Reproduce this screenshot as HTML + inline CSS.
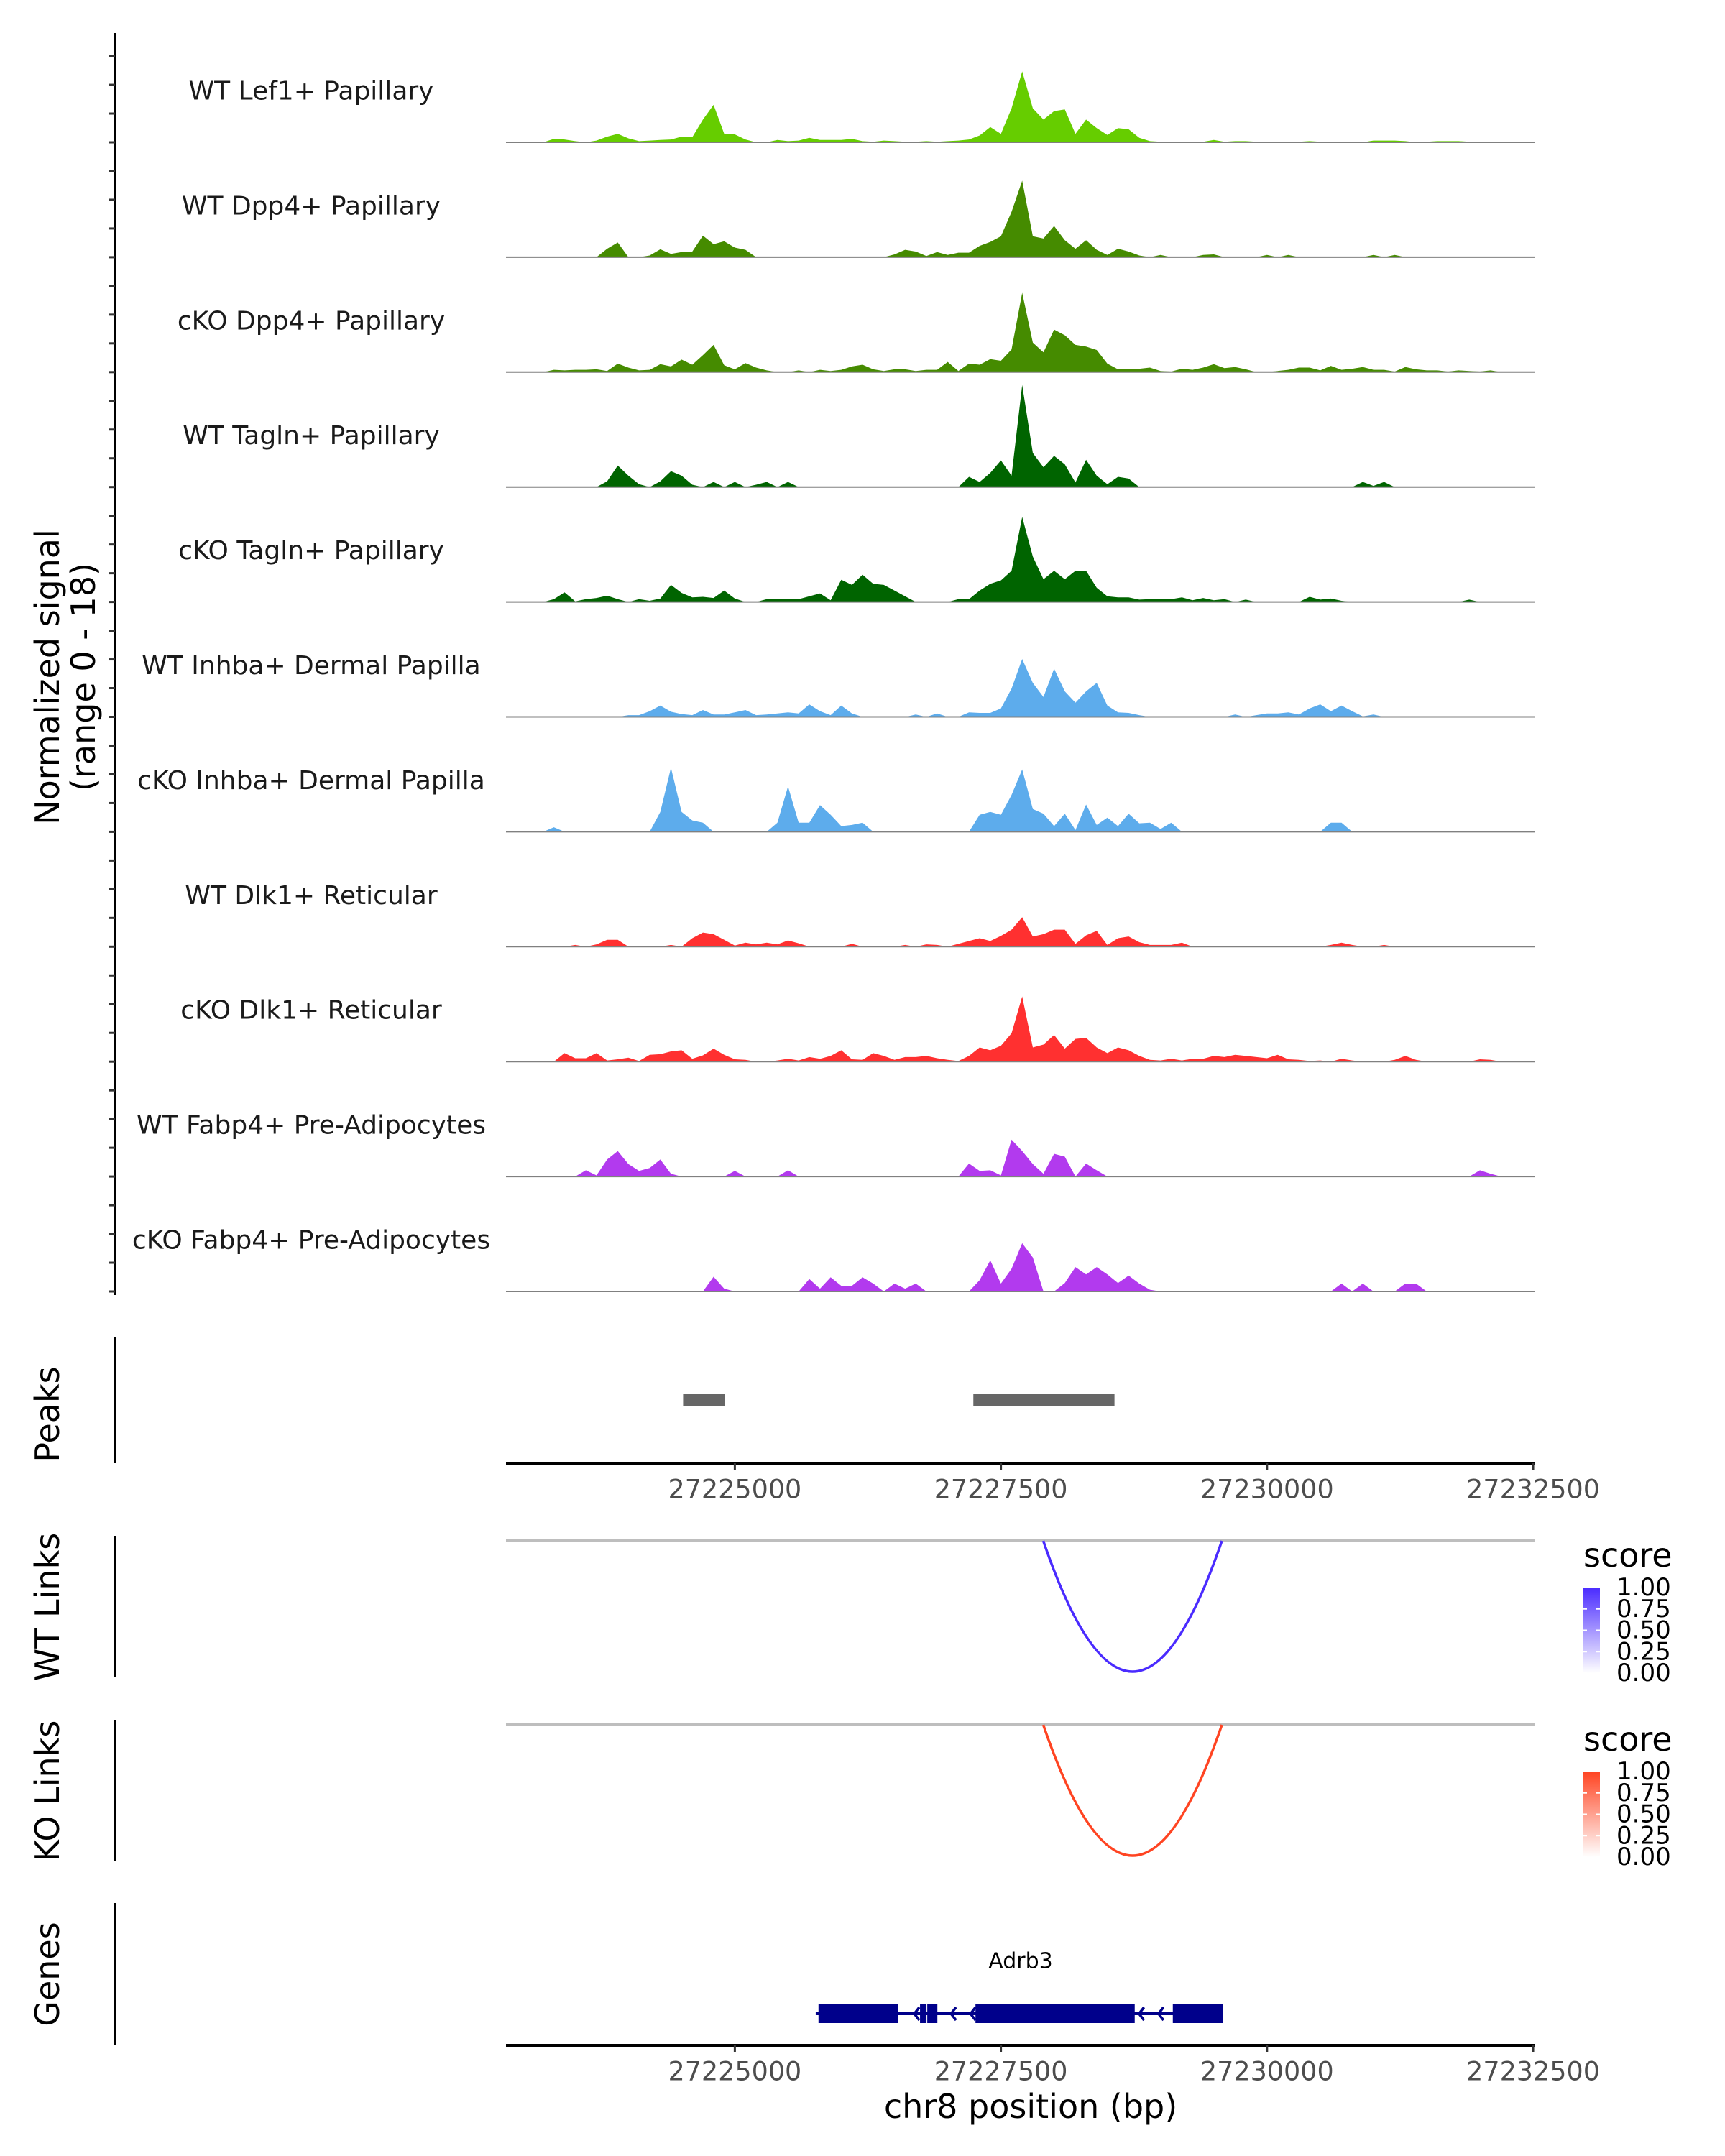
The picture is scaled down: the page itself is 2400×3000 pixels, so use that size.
<!DOCTYPE html>
<html><head><meta charset="utf-8"><style>
html,body{margin:0;padding:0;background:#fff;overflow:hidden;}
svg{display:block;font-family:"DejaVu Sans","Liberation Sans",sans-serif;}
</style></head><body>
<svg id="chart" width="2400" height="3000" viewBox="0 0 2400 3000" xmlns="http://www.w3.org/2000/svg">
<g id="tracks"></g>
<g id="axes"></g>
</svg>
<script>
// genomic domain and bins
const domainBp = [27222850, 27232520];
const binStart = 27222850;
const binSize = 100;
const nBins = 97;
const tickValues = [27225000, 27227500, 27230000, 27232500];
const tickLabels = ["27225000", "27227500", "27230000", "27232500"];
const yMax = 18;

const trackNames = ["WT Lef1+ Papillary","WT Dpp4+ Papillary","cKO Dpp4+ Papillary","WT Tagln+ Papillary","cKO Tagln+ Papillary","WT Inhba+ Dermal Papilla","cKO Inhba+ Dermal Papilla","WT Dlk1+ Reticular","cKO Dlk1+ Reticular","WT Fabp4+ Pre-Adipocytes","cKO Fabp4+ Pre-Adipocytes"];
const trackColors = ["#66cd00","#458b00","#458b00","#006400","#006400","#5dacec","#5dacec","#ff3030","#ff3030","#b23aee","#b23aee"];

// [bin, value] pairs per track
const lef1WT = [[4,0.6],[5,0.5],[6,0.2],[8,0.3],[9,1.0],[10,1.5],[11,0.7],[12,0.2],[13,0.3],[14,0.4],[15,0.5],[16,1.0],[17,0.9],[18,4.0],[19,6.6],[20,1.5],[21,1.4],[22,0.5],[25,0.4],[26,0.2],[27,0.3],[28,0.8],[29,0.4],[30,0.4],[31,0.4],[32,0.6],[33,0.2],[34,0.1],[35,0.3],[36,0.2],[37,0.1],[38,0.1],[39,0.2],[40,0.1],[41,0.2],[42,0.3],[43,0.5],[44,1.2],[45,2.7],[46,1.5],[47,6.0],[48,12.5],[49,6.0],[50,4.0],[51,5.5],[52,5.8],[53,1.5],[54,4.0],[55,2.5],[56,1.3],[57,2.5],[58,2.3],[59,0.8],[60,0.2],[61,0.1],[62,0.1],[63,0.1],[64,0.1],[65,0.1],[66,0.4],[67,0.1],[68,0.2],[69,0.2],[70,0.1],[71,0.1],[72,0.1],[73,0.1],[74,0.1],[75,0.2],[76,0.1],[77,0.1],[78,0.1],[79,0.1],[81,0.3],[82,0.3],[83,0.3],[84,0.2],[86,0.1],[87,0.2],[88,0.2],[89,0.2],[90,0.1],[92,0.1]];
const dpp4WT = [[4,0.1],[9,1.5],[10,2.6],[13,0.3],[14,1.4],[15,0.6],[16,0.9],[17,1.0],[18,3.8],[19,2.3],[20,2.8],[21,1.7],[22,1.3],[36,0.5],[37,1.3],[38,1.0],[39,0.2],[40,0.9],[41,0.4],[42,0.8],[43,0.8],[44,2.0],[45,2.7],[46,3.7],[47,8.0],[48,13.5],[49,3.7],[50,3.3],[51,5.5],[52,3.0],[53,1.5],[54,3.0],[55,1.3],[56,0.4],[57,1.5],[58,1.0],[59,0.3],[61,0.4],[65,0.4],[66,0.5],[71,0.4],[73,0.4],[81,0.4],[83,0.4]];
const dpp4KO = [[4,0.4],[5,0.3],[6,0.4],[7,0.4],[8,0.5],[9,0.2],[10,1.5],[11,0.8],[12,0.3],[13,0.4],[14,1.4],[15,1.0],[16,2.2],[17,1.3],[18,3.0],[19,4.8],[20,1.2],[21,0.5],[22,1.6],[23,0.8],[24,0.3],[27,0.3],[29,0.4],[30,0.2],[31,0.4],[32,1.0],[33,1.3],[34,0.5],[35,0.2],[36,0.5],[37,0.5],[38,0.2],[39,0.4],[40,0.4],[41,1.8],[42,0.2],[43,1.5],[44,1.3],[45,2.3],[46,2.0],[47,4.0],[48,14.0],[49,5.2],[50,3.5],[51,7.5],[52,6.5],[53,4.8],[54,4.5],[55,3.9],[56,1.5],[57,0.5],[58,0.6],[59,0.6],[60,0.8],[61,0.2],[62,0.1],[63,0.6],[64,0.4],[65,0.8],[66,1.4],[67,0.7],[68,0.9],[69,0.5],[72,0.2],[73,0.4],[74,0.8],[75,0.8],[76,0.3],[77,1.1],[78,0.4],[79,0.6],[80,0.9],[81,0.4],[82,0.4],[83,0.1],[84,0.9],[85,0.5],[86,0.3],[87,0.3],[88,0.1],[89,0.3],[90,0.2],[91,0.1],[92,0.3]];
const taglnWT = [[9,1.0],[10,3.8],[11,2.0],[12,0.5],[14,1.0],[15,2.8],[16,2.0],[17,0.4],[19,0.9],[21,0.9],[23,0.4],[24,0.9],[26,0.9],[43,1.8],[44,0.9],[45,2.5],[46,4.7],[47,2.0],[48,18.0],[49,6.0],[50,3.5],[51,5.5],[52,4.0],[53,0.8],[54,4.8],[55,2.0],[56,0.5],[57,1.8],[58,1.5],[80,0.9],[81,0.2],[82,0.9]];
const taglnKO = [[4,0.5],[5,1.7],[6,0.1],[7,0.5],[8,0.7],[9,1.1],[10,0.5],[12,0.5],[13,0.2],[14,0.6],[15,3.0],[16,1.6],[17,0.8],[18,0.9],[19,0.7],[20,2.0],[21,0.6],[24,0.5],[25,0.5],[26,0.5],[27,0.5],[28,1.0],[29,1.5],[30,0.3],[31,3.9],[32,3.0],[33,4.8],[34,3.2],[35,3.0],[36,2.0],[37,1.0],[42,0.5],[43,0.5],[44,2.0],[45,3.2],[46,3.8],[47,5.5],[48,15.0],[49,8.0],[50,4.0],[51,5.5],[52,4.0],[53,5.5],[54,5.5],[55,2.5],[56,1.0],[57,0.8],[58,0.8],[59,0.4],[60,0.5],[61,0.5],[62,0.5],[63,0.8],[64,0.3],[65,0.7],[66,0.3],[67,0.5],[69,0.4],[75,0.9],[76,0.4],[77,0.6],[78,0.2],[90,0.4]];
const inhbaWT = [[11,0.3],[12,0.3],[13,1.0],[14,2.0],[15,0.9],[16,0.5],[17,0.3],[18,1.2],[19,0.4],[20,0.4],[21,0.8],[22,1.2],[23,0.3],[24,0.4],[25,0.6],[26,0.8],[27,0.6],[28,2.2],[29,1.0],[30,0.3],[31,2.0],[32,0.6],[38,0.4],[40,0.6],[43,0.8],[44,0.7],[45,0.7],[46,1.5],[47,5.0],[48,10.2],[49,6.0],[50,3.5],[51,8.5],[52,4.5],[53,2.5],[54,4.5],[55,6.0],[56,2.0],[57,0.8],[58,0.7],[59,0.3],[68,0.4],[70,0.3],[71,0.6],[72,0.6],[73,0.8],[74,0.4],[75,1.5],[76,2.2],[77,1.0],[78,2.0],[79,1.0],[80,0.1],[81,0.4]];
const inhbaKO = [[4,0.8],[14,3.5],[15,11.3],[16,3.5],[17,2.0],[18,1.6],[25,1.6],[26,8.0],[27,1.6],[28,1.6],[29,4.7],[30,3.0],[31,1.0],[32,1.2],[33,1.6],[44,3.0],[45,3.5],[46,3.0],[47,6.5],[48,11.0],[49,4.0],[50,3.2],[51,1.0],[52,3.2],[53,0.3],[54,4.8],[55,1.2],[56,2.5],[57,1.0],[58,3.2],[59,1.5],[60,1.6],[61,0.5],[62,1.6],[77,1.6],[78,1.6]];
const dlk1WT = [[6,0.3],[8,0.4],[9,1.2],[10,1.2],[15,0.3],[17,1.5],[18,2.5],[19,2.2],[20,1.2],[21,0.2],[22,0.7],[23,0.4],[24,0.7],[25,0.4],[26,1.1],[27,0.6],[32,0.5],[37,0.3],[39,0.4],[40,0.3],[42,0.5],[43,1.0],[44,1.5],[45,1.0],[46,1.9],[47,3.0],[48,5.2],[49,1.8],[50,2.2],[51,3.0],[52,3.0],[53,0.5],[54,2.0],[55,2.8],[56,0.3],[57,1.5],[58,1.8],[59,0.8],[60,0.3],[61,0.3],[62,0.3],[63,0.7],[77,0.3],[78,0.7],[79,0.3],[82,0.3]];
const dlk1KO = [[5,1.5],[6,0.6],[7,0.6],[8,1.5],[9,0.2],[10,0.4],[11,0.7],[12,0.1],[13,1.2],[14,1.3],[15,1.8],[16,2.0],[17,0.5],[18,1.1],[19,2.3],[20,1.2],[21,0.4],[22,0.3],[25,0.2],[26,0.5],[27,0.2],[28,0.8],[29,0.5],[30,1.0],[31,2.0],[32,0.4],[33,0.3],[34,1.5],[35,1.0],[36,0.3],[37,0.8],[38,0.8],[39,1.0],[40,0.6],[41,0.3],[42,0.1],[43,1.0],[44,2.5],[45,2.0],[46,2.8],[47,5.0],[48,11.5],[49,2.5],[50,3.0],[51,4.7],[52,2.3],[53,4.0],[54,4.2],[55,2.5],[56,1.5],[57,2.5],[58,2.0],[59,1.0],[60,0.3],[61,0.2],[62,0.5],[63,0.2],[64,0.5],[65,0.5],[66,1.0],[67,0.8],[68,1.2],[69,1.0],[70,0.8],[71,0.6],[72,1.2],[73,0.4],[74,0.3],[75,0.1],[76,0.2],[78,0.5],[79,0.2],[83,0.3],[84,1.0],[85,0.3],[91,0.4],[92,0.3]];
const fabp4WT = [[7,1.1],[8,0.2],[9,3.0],[10,4.5],[11,2.2],[12,1.0],[13,1.5],[14,3.0],[15,0.5],[21,1.0],[26,1.1],[43,2.3],[44,1.0],[45,1.1],[46,0.2],[47,6.5],[48,4.5],[49,2.2],[50,0.5],[51,4.0],[52,3.5],[54,2.3],[55,1.1],[91,1.1],[92,0.5]];
const fabp4KO = [[19,2.6],[20,0.5],[28,2.2],[29,0.5],[30,2.5],[31,1.0],[32,1.0],[33,2.5],[34,1.4],[36,1.4],[37,0.5],[38,1.4],[44,2.0],[45,5.5],[46,1.4],[47,4.0],[48,8.5],[49,6.0],[52,1.5],[53,4.3],[54,3.0],[55,4.3],[56,3.0],[57,1.5],[58,2.8],[59,1.4],[60,0.3],[78,1.4],[80,1.4],[84,1.4],[85,1.4]];
const trackData = [lef1WT,dpp4WT,dpp4KO,taglnWT,taglnKO,inhbaWT,inhbaKO,dlk1WT,dlk1KO,fabp4WT,fabp4KO];

// peaks, links, gene
const peakStarts = [27224514, 27227241];
const peakEnds = [27224907, 27228567];
const wtLinkStart = [27227898]; const wtLinkEnd = [27229576]; const wtLinkScore = [1.0];
const koLinkStart = [27227898]; const koLinkEnd = [27229576]; const koLinkScore = [1.0];
const exonStarts = [27225786, 27226740, 27226808, 27227261, 27229115];
const exonEnds = [27226537, 27226801, 27226903, 27228757, 27229589];
const geneStart = 27225760, geneEnd = 27229589;
const arrowPos = [27226686, 27227031, 27227214, 27228797, 27228980];
const legendTicks = ["1.00","0.75","0.50","0.25","0.00"];

const NS = "http://www.w3.org/2000/svg";
const X0 = 704, X1 = 2136;
function xScale(bp){ return X0 + (bp - domainBp[0])/(domainBp[1]-domainBp[0])*(X1-X0); }
const trackTop0 = 198, trackStep = 159.9, trackH = 142;
function yScale(v, base){ return base - v/yMax*trackH; }
function mk(tag, attrs, parent){ const e = document.createElementNS(NS, tag); for (const k in attrs) e.setAttribute(k, attrs[k]); parent.appendChild(e); return e; }
const tracksG = document.getElementById('tracks');
const axesG = document.getElementById('axes');

trackData.forEach((pairs, i) => {
  const base = trackTop0 + i*trackStep;
  const vals = new Array(nBins).fill(0);
  pairs.forEach(p => { vals[p[0]] = p[1]; });
  let d = "M" + xScale(binStart) + "," + base;
  for (let b = 0; b < nBins; b++) {
    const cx = xScale(binStart + b*binSize + binSize/2);
    d += " L" + cx.toFixed(1) + "," + yScale(vals[b], base).toFixed(1);
  }
  d += " L" + xScale(binStart + nBins*binSize) + "," + base + " Z";
  const area = mk('path', {d: d, fill: trackColors[i], stroke: 'none'}, tracksG);
  
  
  const bl = mk('line', {x1: X0, x2: X1, y1: base, y2: base, stroke: '#808080', 'stroke-width': 2}, tracksG);
  
  
  const t = mk('text', {x: 433, y: base - 71, 'text-anchor': 'middle', 'dominant-baseline': 'central', 'font-size': 36, fill: '#1a1a1a'}, tracksG);
  t.textContent = trackNames[i];
  
  
});

// left signal axis
const la = mk('line', {x1: 160, x2: 160, y1: 46, y2: 1802, stroke: '#000', 'stroke-width': 3}, axesG);


for (let k = -3; k <= 40; k++) {
  const y = trackTop0 + k*trackStep/4;
  const tk = mk('line', {x1: 152, x2: 160, y1: y, y2: y, stroke: '#333', 'stroke-width': 3}, axesG);
  
  
}
function rotLabel(txt, x, y, name){
  const t = mk('text', {x: x, y: y, transform: 'rotate(-90 '+x+' '+y+')', 'text-anchor': 'middle', 'dominant-baseline': 'central', 'font-size': 46, fill: '#000'}, axesG);
  t.textContent = txt;
  
  
}
rotLabel("Normalized signal", 66, 942, 'y-axis-title');
rotLabel("(range 0 - 18)", 116, 942, 'y-axis-subtitle');
rotLabel("Peaks", 66, 1968, 'peaks-title');
rotLabel("WT Links", 66, 2236, 'wt-links-title');
rotLabel("KO Links", 66, 2492, 'ko-links-title');
rotLabel("Genes", 66, 2747, 'genes-title');
[[1861,2036],[2137,2334],[2393,2590],[2648,2846]].forEach(r => {
  const l = mk('line', {x1: 160, x2: 160, y1: r[0], y2: r[1], stroke: '#000', 'stroke-width': 3}, axesG);
  
  
});

// peaks
peakStarts.forEach((s, i) => {
  const r = mk('rect', {x: xScale(s), y: 1940, width: xScale(peakEnds[i]) - xScale(s), height: 17, fill: '#666666'}, axesG);
  
  
});

function xAxis(y){
  const a = mk('line', {x1: X0, x2: X1, y1: y, y2: y, stroke: '#000', 'stroke-width': 4}, axesG);
  
  
  tickValues.forEach((v, i) => {
    const x = xScale(v);
    const tk = mk('line', {x1: x, x2: x, y1: y, y2: y + 9, stroke: '#333', 'stroke-width': 3}, axesG);
    
    
    const t = mk('text', {x: x, y: y + 36, 'text-anchor': 'middle', 'dominant-baseline': 'central', 'font-size': 36.5, fill: '#4d4d4d'}, axesG);
    t.textContent = tickLabels[i];
    
    
  });
}
xAxis(2036);
xAxis(2846);
const xt = mk('text', {x: 1434, y: 2931, 'text-anchor': 'middle', 'dominant-baseline': 'central', 'font-size': 46, fill: '#000'}, axesG);
xt.textContent = "chr8 position (bp)";



// links
function links(starts, ends, scores, lineY, depth, color, gradId, name){
  const g = mk('line', {x1: X0, x2: X1, y1: lineY, y2: lineY, stroke: '#bebebe', 'stroke-width': 4}, axesG);
  
  
  starts.forEach((s, i) => {
    const a = xScale(s), b = xScale(ends[i]);
    const p = mk('path', {d: 'M'+a+','+lineY+' Q'+((a+b)/2)+','+(lineY+2*depth)+' '+b+','+lineY, fill: 'none', stroke: color, 'stroke-width': 3.5, opacity: scores[i]}, axesG);
    
    
  });
  const top = lineY + 65;
  const st = mk('text', {x: 2203, y: lineY + 36, 'font-size': 46, fill: '#000'}, axesG);
  st.textContent = "score";
  
  
  const defs = mk('defs', {}, axesG);
  const lg = mk('linearGradient', {id: gradId, x1: 0, y1: 1, x2: 0, y2: 0}, defs);
  mk('stop', {offset: 0, 'stop-color': '#ffffff'}, lg);
  mk('stop', {offset: 1, 'stop-color': color}, lg);
  const bar = mk('rect', {x: 2203, y: top, width: 23, height: 119, fill: 'url(#'+gradId+')'}, axesG);
  
  
  legendTicks.forEach((lab, k) => {
    const y = top + k*119/4;
    mk('line', {x1: 2203, x2: 2208, y1: y, y2: y, stroke: '#fff', 'stroke-width': 2}, axesG);
    mk('line', {x1: 2221, x2: 2226, y1: y, y2: y, stroke: '#fff', 'stroke-width': 2}, axesG);
    const t = mk('text', {x: 2249, y: y, 'dominant-baseline': 'central', 'font-size': 34, fill: '#000'}, axesG);
    t.textContent = lab;
    
    
  });
}
links(wtLinkStart, wtLinkEnd, wtLinkScore, 2144, 182, '#4a2bff', 'gradWT', 'wt-links');
links(koLinkStart, koLinkEnd, koLinkScore, 2400, 182, '#ff4422', 'gradKO', 'ko-links');

// gene
const gl = mk('line', {x1: xScale(geneStart), x2: xScale(geneEnd), y1: 2802, y2: 2802, stroke: '#00008b', 'stroke-width': 4}, axesG);


exonStarts.forEach((s, i) => {
  const r = mk('rect', {x: xScale(s), y: 2788, width: xScale(exonEnds[i]) - xScale(s), height: 27, fill: '#00008b'}, axesG);
  
  
});
arrowPos.forEach(p => {
  const x = xScale(p);
  const a = mk('path', {d: 'M'+(x+7)+',2793 L'+x+',2802 L'+(x+7)+',2811', fill: 'none', stroke: '#00008b', 'stroke-width': 3.5}, axesG);
  
  
});
const gt = mk('text', {x: 1420, y: 2729, 'text-anchor': 'middle', 'dominant-baseline': 'central', 'font-size': 30, fill: '#000'}, axesG);
gt.textContent = "Adrb3";


</script>
</body></html>
